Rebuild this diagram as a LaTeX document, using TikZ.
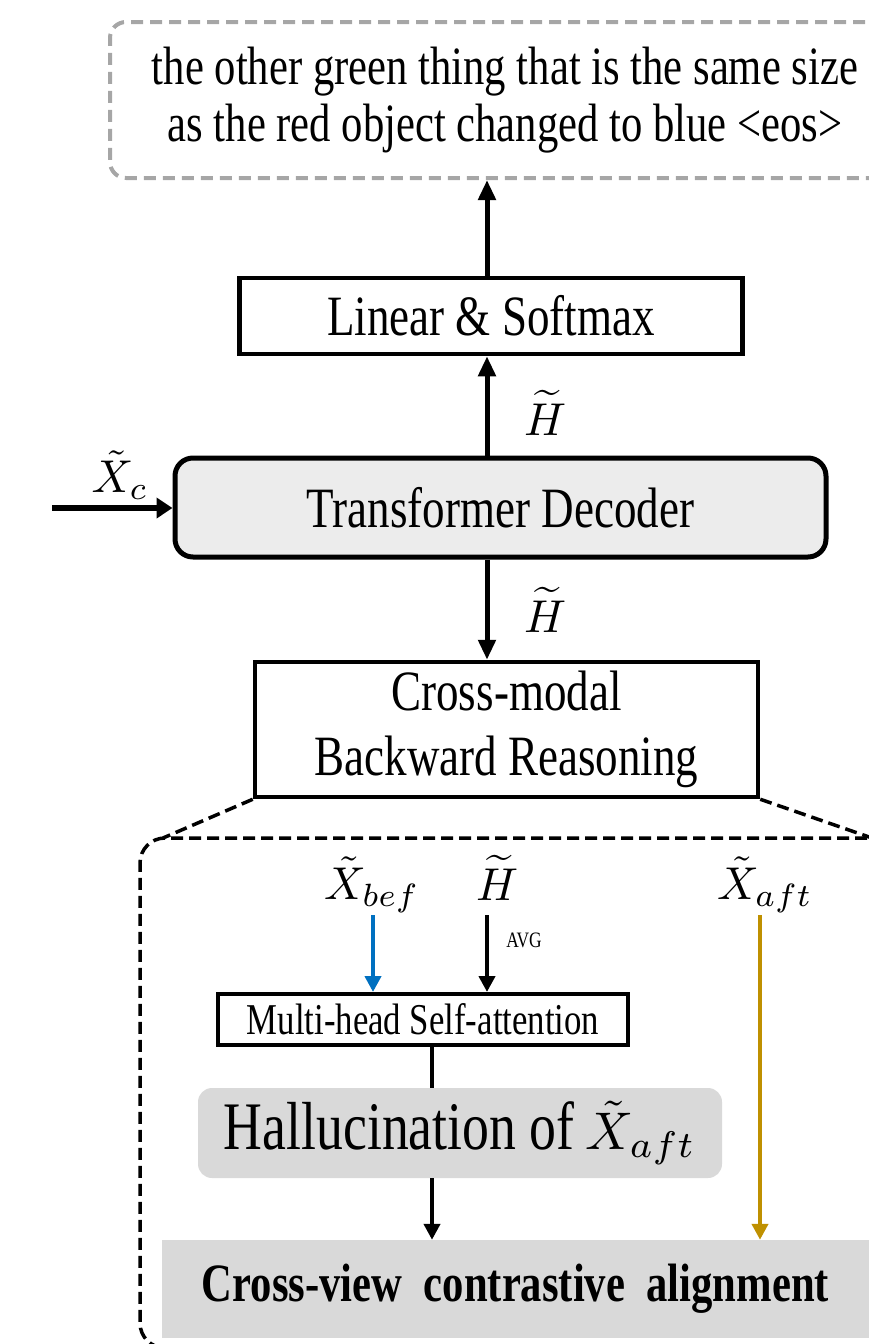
\documentclass[tikz,border=0pt]{standalone}
\usepackage{fontspec}
\setmainfont{Liberation Serif}[FakeStretch=0.79]
\usetikzlibrary{arrows.meta,calc}
\definecolor{boxgray}{HTML}{ECECEC}
\definecolor{halgray}{HTML}{D9D9D9}
\definecolor{dashgray}{HTML}{A6A6A6}
\definecolor{befblue}{HTML}{0070C0}
\definecolor{aftgold}{HTML}{BF9000}
\newcommand{\scmath}[2]{{\fontsize{10}{12}\selectfont\scalebox{#1}{$#2$}}}
\begin{document}
\begin{tikzpicture}[x=1pt,y=-1pt,
  plainbox/.style={draw=black,line width=4.5pt,fill=white,inner sep=0pt,align=center},
  arr/.style={line width=5pt,-{Triangle[length=20pt,width=17pt]}},
  thinarr/.style={line width=4pt,-{Triangle[length=16pt,width=16pt]}},
  bigfont/.style={font=\fontsize{57}{65}\selectfont},
  lab/.style={inner sep=0pt},
  zoomdash/.style={draw=black,line width=3.5pt,dash pattern=on 12pt off 6pt}]
\useasboundingbox (0,0) rectangle (869,1344);
\clip (0,0) rectangle (869,1344);

% output sentence
\node[draw=dashgray,line width=4pt,dash pattern=on 12pt off 7pt,rounded corners=16pt,
  minimum width=790pt,minimum height=156pt,align=center,inner sep=0pt,
  font=\fontsize{54}{57}\selectfont] (out) at (505,100)
  {the other green thing that is the same size\\as the red object changed to blue <eos>};

\node[plainbox,bigfont,minimum width=503pt,minimum height=76pt] (lin) at (491,316) {Linear \& Softmax};
\node[draw=black,line width=5pt,fill=boxgray,rounded corners=18pt,minimum width=651pt,
  minimum height=99pt,bigfont,inner sep=0pt] (td) at (500.5,507.5) {Transformer Decoder};
\node[plainbox,bigfont,minimum width=503pt,minimum height=135pt] (cm) at (506.5,729.5) {Cross-modal\\Backward Reasoning};

\coordinate (ax) at (487,0);
\draw[arr] (ax |- lin.north) -- (ax |- out.south);
\draw[arr] (ax |- td.north) -- (ax |- lin.south);
\draw[arr] (ax |- td.south) -- (ax |- cm.north);

\node[lab] (h1) at (545,413) {\scmath{4.6}{\widetilde{H}}};
\node[lab] (h2) at (545,610) {\scmath{4.6}{\widetilde{H}}};
\node[lab] (xc) at (120,475) {\scmath{4.6}{\tilde{X}_c}};
\coordinate (xcin) at (52,508);
\draw[line width=6pt,-{Triangle[length=16pt,width=20pt]}] (xcin) -- (td.west |- xcin);

% zoom lines and expanded box
\coordinate (zl) at (163,838);
\coordinate (zr) at (872,838);
\draw[zoomdash] (cm.south west) -- (zl);
\draw[zoomdash] (cm.south east) -- (zr);
\draw[zoomdash,rounded corners=25pt] (885,838) -- (140,838) -- (140,1348) -- (400,1348);

% inner part
\node[plainbox,line width=4pt,font=\fontsize{44}{44}\selectfont,minimum width=410pt,minimum height=51pt] (mh) at (423,1019.5) {Multi-head Self-attention};
\node[fill=halgray,rounded corners=14pt,minimum width=524pt,minimum height=90pt,inner sep=0pt,
  font=\fontsize{68}{68}\selectfont] (hal) at (460,1133) {Hallucination of\,\scmath{5.3}{\tilde{X}_{aft}}};
\node[fill=halgray,minimum width=707pt,minimum height=98pt,inner sep=0pt,
  font=\bfseries\fontsize{54}{54}\selectfont] (cv) at (515.5,1289) {Cross-view\ \ contrastive\ \ alignment};

\node[lab] (xb) at (372,885) {\scmath{4.6}{\tilde{X}_{bef}}};
\node[lab] (hh) at (497,878) {\scmath{4.6}{\widetilde{H}}};
\node[lab] (xa) at (765,885) {\scmath{4.6}{\tilde{X}_{aft}}};
\coordinate (bx) at (373,915);
\coordinate (hx) at (487,915);
\coordinate (gx) at (760,915);
\draw[thinarr,befblue] (bx) -- (bx |- mh.north);
\draw[thinarr] (hx) -- (hx |- mh.north);
\node[lab,font=\fontsize{22}{22}\selectfont] (avg) at (524,940) {AVG};
\draw[thinarr,aftgold] (gx) -- (gx |- cv.north);
\coordinate (mx) at (432,0);
\draw[line width=4pt] (mx |- mh.south) -- (mx |- hal.north);
\draw[thinarr] (mx |- hal.south) -- (mx |- cv.north);
\end{tikzpicture}
\end{document}
